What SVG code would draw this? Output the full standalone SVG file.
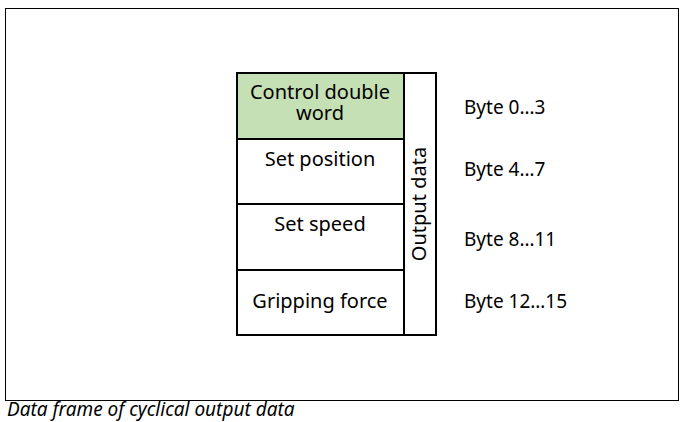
<svg xmlns="http://www.w3.org/2000/svg" width="683" height="422" viewBox="0 0 683 422">
<style>
.t{font-family:"Noto Sans","Liberation Sans",sans-serif;font-size:20px;fill:#000;text-anchor:middle}
.b{font-family:"Noto Sans","Liberation Sans",sans-serif;font-size:19px;fill:#000}
.c{fill:none;stroke:#000;stroke-width:2}
</style>
<rect x="0" y="0" width="683" height="422" fill="#fff"/>
<rect x="5.5" y="8.5" width="673" height="392" fill="none" stroke="#000" stroke-width="1"/>
<g id="control"><rect x="237" y="73" width="167" height="66" class="c" style="fill:#c5e0b4"/><text class="t" x="320" y="99">Control double</text><text class="t" x="320" y="120">word</text></g>
<g id="setpos"><rect x="237" y="139" width="167" height="65" class="c"/><text class="t" x="320" y="166">Set position</text></g>
<g id="setspeed"><rect x="237" y="204" width="167" height="66" class="c"/><text class="t" x="320" y="231">Set speed</text></g>
<g id="grip"><rect x="237" y="270" width="167" height="65" class="c"/><text class="t" x="320" y="308">Gripping force</text></g>
<g id="output"><rect x="404" y="73" width="32" height="262" class="c"/><text class="t" transform="translate(426,204) rotate(-90)">Output data</text></g>
<g id="bytes">
<text class="b" x="464" y="114">Byte 0…3</text>
<text class="b" x="464" y="176">Byte 4…7</text>
<text class="b" x="464" y="246">Byte 8…11</text>
<text class="b" x="464" y="308">Byte 12…15</text>
</g>
<g id="connectors"/>
<text x="7" y="416" style="font-family:'Noto Sans','Liberation Sans',sans-serif;font-size:19px;font-style:italic">Data frame of cyclical output data</text>
</svg>
